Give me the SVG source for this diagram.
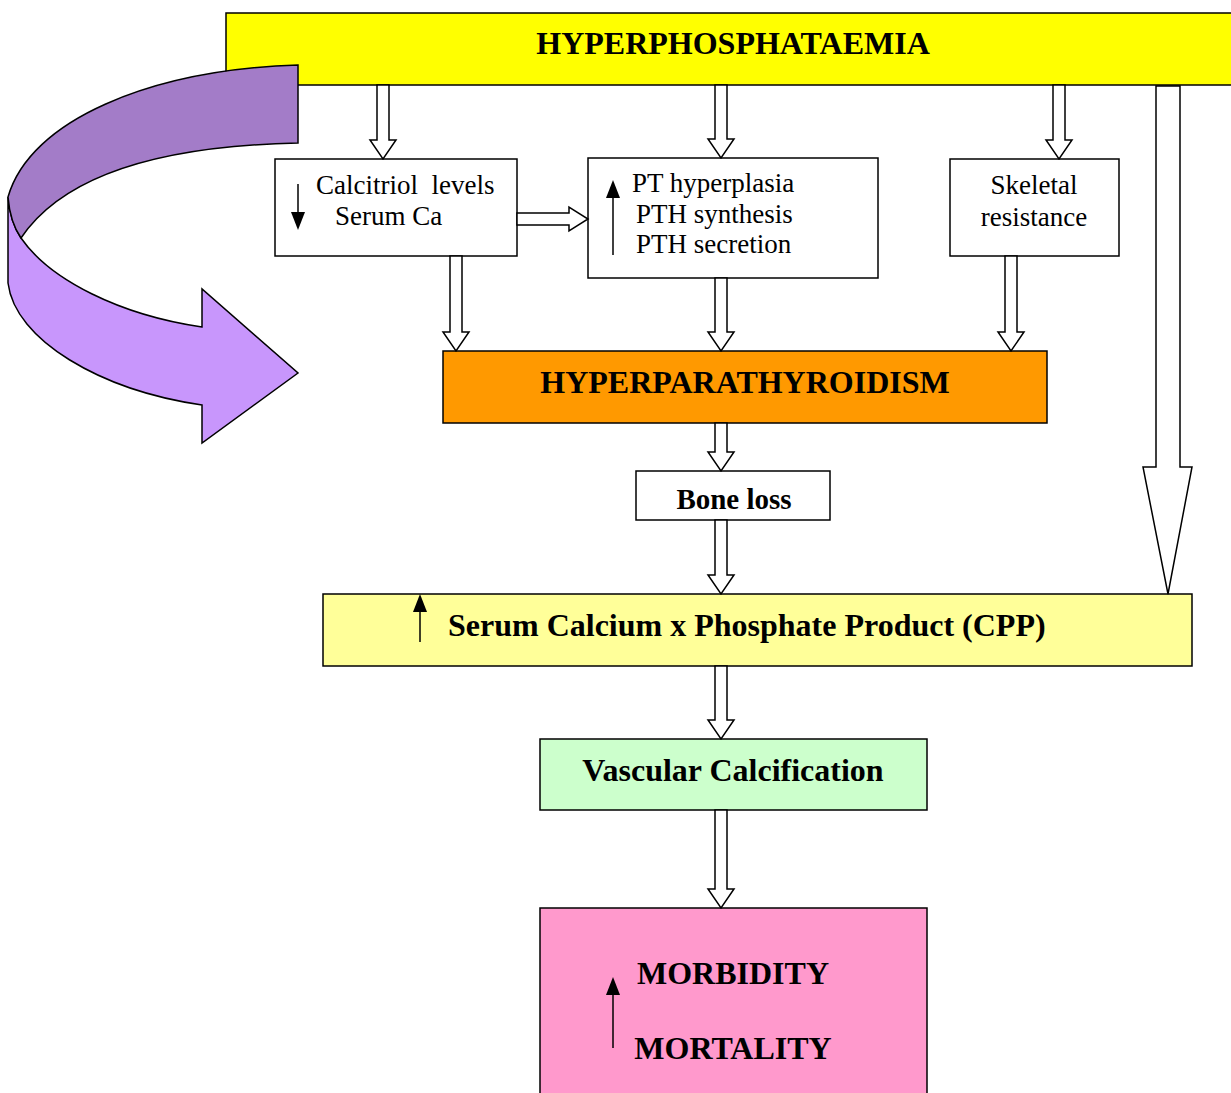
<svg xmlns="http://www.w3.org/2000/svg" width="1231" height="1093" viewBox="0 0 1231 1093">
<style>
.box{stroke:#000;stroke-width:1.5}
.ba{fill:#fff;stroke:#000;stroke-width:1.5;stroke-linejoin:miter}
.t{font-family:"Liberation Serif","Times New Roman",serif;fill:#000;white-space:pre}
.r{font-size:27px}
.b{font-weight:bold;font-size:32px}
.sm{stroke:#000;stroke-width:1.5}
</style>
<rect width="1231" height="1093" fill="#fff"/>

<g id="hyperphosphataemia">
<rect class="box" x="226" y="13" width="1010" height="72" fill="#FFFF00"/>
<text class="t b" x="733" y="54" text-anchor="middle">HYPERPHOSPHATAEMIA</text>
</g>

<g id="curved-arrow">
<path d="M8,197 Q10,222 21,238 C50,280 120,315 202,327 L202,289 L298,373 L202,443 L202,405 C100,390 15,340 8,283 Z" fill="#C896FC" stroke="#000" stroke-width="1.5" stroke-linejoin="miter"/>
<path d="M298,65 L298,143 C150,146 60,180 21,238 Q10,222 8,197 C30,120 150,70 298,65 Z" fill="#A37CC8" stroke="#000" stroke-width="1.5"/>
</g>

<g id="calcitriol">
<rect class="box" x="275" y="159" width="242" height="97" fill="#fff"/>
<line class="sm" x1="298" y1="184" x2="298" y2="214"/>
<path d="M291,212 L305,212 L298,230 Z" fill="#000"/>
<text class="t r" x="316" y="194" xml:space="preserve">Calcitriol  levels</text>
<text class="t r" x="335" y="225">Serum Ca</text>
</g>

<g id="pt-hyperplasia">
<rect class="box" x="588" y="158" width="290" height="120" fill="#fff"/>
<line class="sm" x1="613" y1="255" x2="613" y2="196"/>
<path d="M606,198 L620,198 L613,180 Z" fill="#000"/>
<text class="t r" x="632" y="192">PT hyperplasia</text>
<text class="t r" x="636" y="223">PTH synthesis</text>
<text class="t r" x="636" y="253">PTH secretion</text>
</g>

<g id="skeletal">
<rect class="box" x="950" y="159" width="169" height="97" fill="#fff"/>
<text class="t r" x="1034" y="194" text-anchor="middle">Skeletal</text>
<text class="t r" x="1034" y="226" text-anchor="middle">resistance</text>
</g>

<g id="hyperparathyroidism">
<rect class="box" x="443" y="351" width="604" height="72" fill="#FF9900"/>
<text class="t b" x="745" y="393" text-anchor="middle">HYPERPARATHYROIDISM</text>
</g>

<g id="bone-loss">
<rect class="box" x="636" y="471" width="194" height="49" fill="#fff"/>
<text class="t b" x="734" y="509" text-anchor="middle" style="font-size:29px">Bone loss</text>
</g>

<g id="cpp">
<rect class="box" x="323" y="594" width="869" height="72" fill="#FFFF99"/>
<line class="sm" x1="420" y1="642" x2="420" y2="610"/>
<path d="M413,612 L427,612 L420,594 Z" fill="#000"/>
<text class="t b" x="448" y="636">Serum Calcium x Phosphate Product (CPP)</text>
</g>

<g id="vascular">
<rect class="box" x="540" y="739" width="387" height="71" fill="#CCFFCC"/>
<text class="t b" x="733" y="781" text-anchor="middle">Vascular Calcification</text>
</g>

<g id="morbidity">
<rect class="box" x="540" y="908" width="387" height="190" fill="#FF99CC"/>
<line class="sm" x1="613" y1="1048" x2="613" y2="993"/>
<path d="M606,995 L620,995 L613,977 Z" fill="#000"/>
<text class="t b" x="733" y="984" text-anchor="middle">MORBIDITY</text>
<text class="t b" x="733" y="1059" text-anchor="middle">MORTALITY</text>
</g>

<g id="connectors">
<polygon class="ba" points="377,85 389,85 389,140 396,140 383,159 370,140 377,140"/>
<polygon class="ba" points="715,85 727,85 727,139 734,139 721,158 708,139 715,139"/>
<polygon class="ba" points="1053,85 1065,85 1065,140 1072,140 1059,159 1046,140 1053,140"/>
<polygon class="ba" points="517,213 569,213 569,207 588,219 569,231 569,225 517,225"/>
<polygon class="ba" points="450,256 462,256 462,332 469,332 456,351 443,332 450,332"/>
<polygon class="ba" points="715,278 727,278 727,332 734,332 721,351 708,332 715,332"/>
<polygon class="ba" points="1005,256 1017,256 1017,332 1024,332 1011,351 998,332 1005,332"/>
<polygon class="ba" points="715,423 727,423 727,452 734,452 721,471 708,452 715,452"/>
<polygon class="ba" points="715,520 727,520 727,575 734,575 721,594 708,575 715,575"/>
<polygon class="ba" points="715,666 727,666 727,720 734,720 721,739 708,720 715,720"/>
<polygon class="ba" points="715,810 727,810 727,889 734,889 721,908 708,889 715,889"/>
<polygon class="ba" points="1156,86 1180,86 1180,467 1192,467 1168,594 1143,467 1156,467"/>
</g>
</svg>
